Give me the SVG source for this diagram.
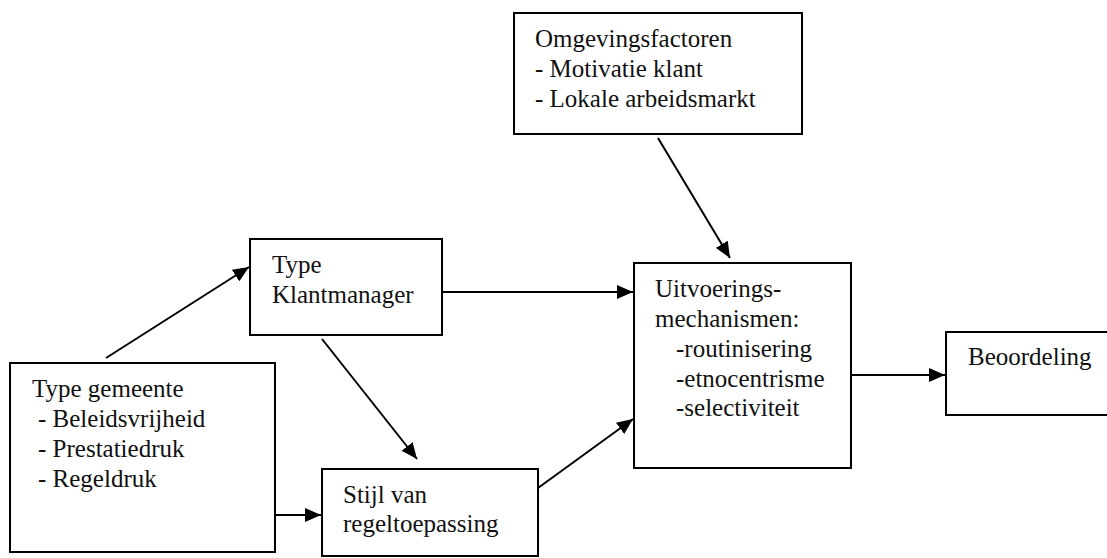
<svg xmlns="http://www.w3.org/2000/svg" width="1107" height="558" viewBox="0 0 1107 558">
  <style>
    .box { fill: #ffffff; stroke: #000000; stroke-width: 2; }
    .lbl { font-size: 25px; fill: #111111; }
    .link { stroke: #000000; stroke-width: 2; fill: none; marker-end: url(#head); }
  </style>
  <defs>
    <marker id="head" markerUnits="userSpaceOnUse" markerWidth="18" markerHeight="14" refX="16" refY="7" orient="auto">
      <path d="M0,0 L16,7 L0,14 Z" fill="#000000"/>
    </marker>
  </defs>

  <rect width="1107" height="558" fill="#ffffff"/>

  <g id="connectors">
    <line class="link" x1="106" y1="358" x2="249" y2="267"/>
    <line class="link" x1="442" y1="292" x2="633" y2="292"/>
    <line class="link" x1="322" y1="339" x2="417" y2="459"/>
    <line class="link" x1="275" y1="515" x2="321" y2="515"/>
    <line class="link" x1="538" y1="488" x2="633" y2="419"/>
    <line class="link" x1="658" y1="138" x2="730" y2="258"/>
    <line class="link" x1="851" y1="375" x2="945" y2="375"/>
  </g>

  <g font-family="'Liberation Serif', 'Times New Roman', Times, serif">
    <g id="node-omgevingsfactoren">
      <rect class="box" x="514" y="13" width="288" height="121"/>
      <text class="lbl" x="535" y="47">Omgevingsfactoren</text>
      <text class="lbl" x="535" y="77">- Motivatie klant</text>
      <text class="lbl" x="535" y="107">- Lokale arbeidsmarkt</text>
    </g>

    <g id="node-type-klantmanager">
      <rect class="box" x="250" y="239" width="192" height="96"/>
      <text class="lbl" x="272" y="273">Type</text>
      <text class="lbl" x="272" y="303">Klantmanager</text>
    </g>

    <g id="node-type-gemeente">
      <rect class="box" x="10" y="363" width="265" height="189"/>
      <text class="lbl" x="32" y="397">Type gemeente</text>
      <text class="lbl" x="38" y="427">- Beleidsvrijheid</text>
      <text class="lbl" x="38" y="457">- Prestatiedruk</text>
      <text class="lbl" x="38" y="487">- Regeldruk</text>
    </g>

    <g id="node-stijl">
      <rect class="box" x="322" y="469" width="216" height="87"/>
      <text class="lbl" x="343" y="503">Stijl van</text>
      <text class="lbl" x="343" y="532">regeltoepassing</text>
    </g>

    <g id="node-uitvoeringsmechanismen">
      <rect class="box" x="634" y="263" width="217" height="205"/>
      <text class="lbl" x="655" y="297">Uitvoerings-</text>
      <text class="lbl" x="655" y="327">mechanismen:</text>
      <text class="lbl" x="676" y="357">-routinisering</text>
      <text class="lbl" x="676" y="387">-etnocentrisme</text>
      <text class="lbl" x="676" y="416">-selectiviteit</text>
    </g>

    <g id="node-beoordeling">
      <rect class="box" x="946" y="332" width="170" height="83"/>
      <text class="lbl" x="968" y="365">Beoordeling</text>
    </g>
  </g>
</svg>
